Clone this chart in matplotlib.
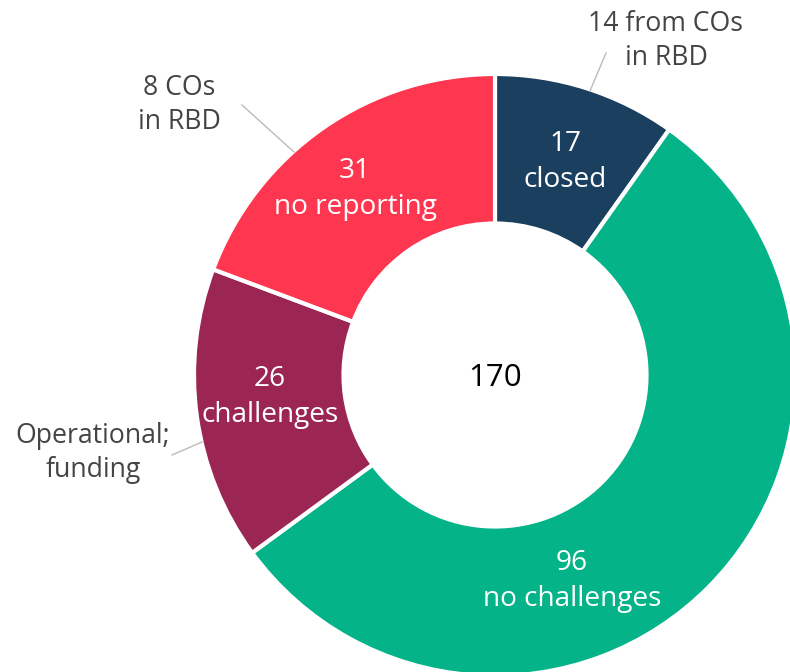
import matplotlib.pyplot as plt

# data
# wedge sizes as drawn in the reference (they do not follow the printed counts exactly)
shares = [16.7, 93.7, 26.8, 32.8]
labels = ["17\nclosed", "96\nno challenges", "26\nchallenges", "31\nno reporting"]
colors = ["#1b3f5e", "#05b388", "#9b2553", "#fe3650"]
total_label = "170"
notes = ["14 from COs\nin RBD", "8 COs\nin RBD", "Operational;\nfunding"]

plt.rcParams["font.family"] = ["Open Sans", "DejaVu Sans"]

W, H = 790, 672
fig = plt.figure(figsize=(W / 100, H / 100), dpi=100)
ax = fig.add_axes([0, 0, 1, 1])

cx, cy = 495, H - 375
R = 301
ax.pie(shares, colors=colors, startangle=90, counterclock=False,
       center=(cx, cy), radius=R,
       wedgeprops=dict(width=149.5, edgecolor="white", linewidth=3))
ax.set_xlim(0, W)
ax.set_ylim(0, H)
ax.set_aspect("equal")
ax.axis("off")

# segment labels (pixel positions measured from the top)
lab_pos = [(565, 162), (572, 581), (270, 397), (355, 189)]
for (x, y), t in zip(lab_pos, labels):
    ax.text(x, H - y, t, ha="center", va="center", color="white",
            fontsize=20.2, linespacing=1.42)

ax.text(cx, H - 378, total_label, ha="center", va="center",
        color="black", fontsize=22.5)

# side notes with leader lines
note_pos = [(666, 41), (179, 105), (93, 453)]
leaders = [((606, 53), (590, 91)), ((242, 105), (294, 152)),
           ((172, 455), (202, 442))]
for (x, y), t, (p0, p1) in zip(note_pos, notes, leaders):
    ax.text(x, H - y, t, ha="center", va="center", color="#444444",
            fontsize=19.2, linespacing=1.32)
    ax.plot([p0[0], p1[0]], [H - p0[1], H - p1[1]], color="#bbbbbb", lw=1)

fig.savefig("out.png", dpi=100)
